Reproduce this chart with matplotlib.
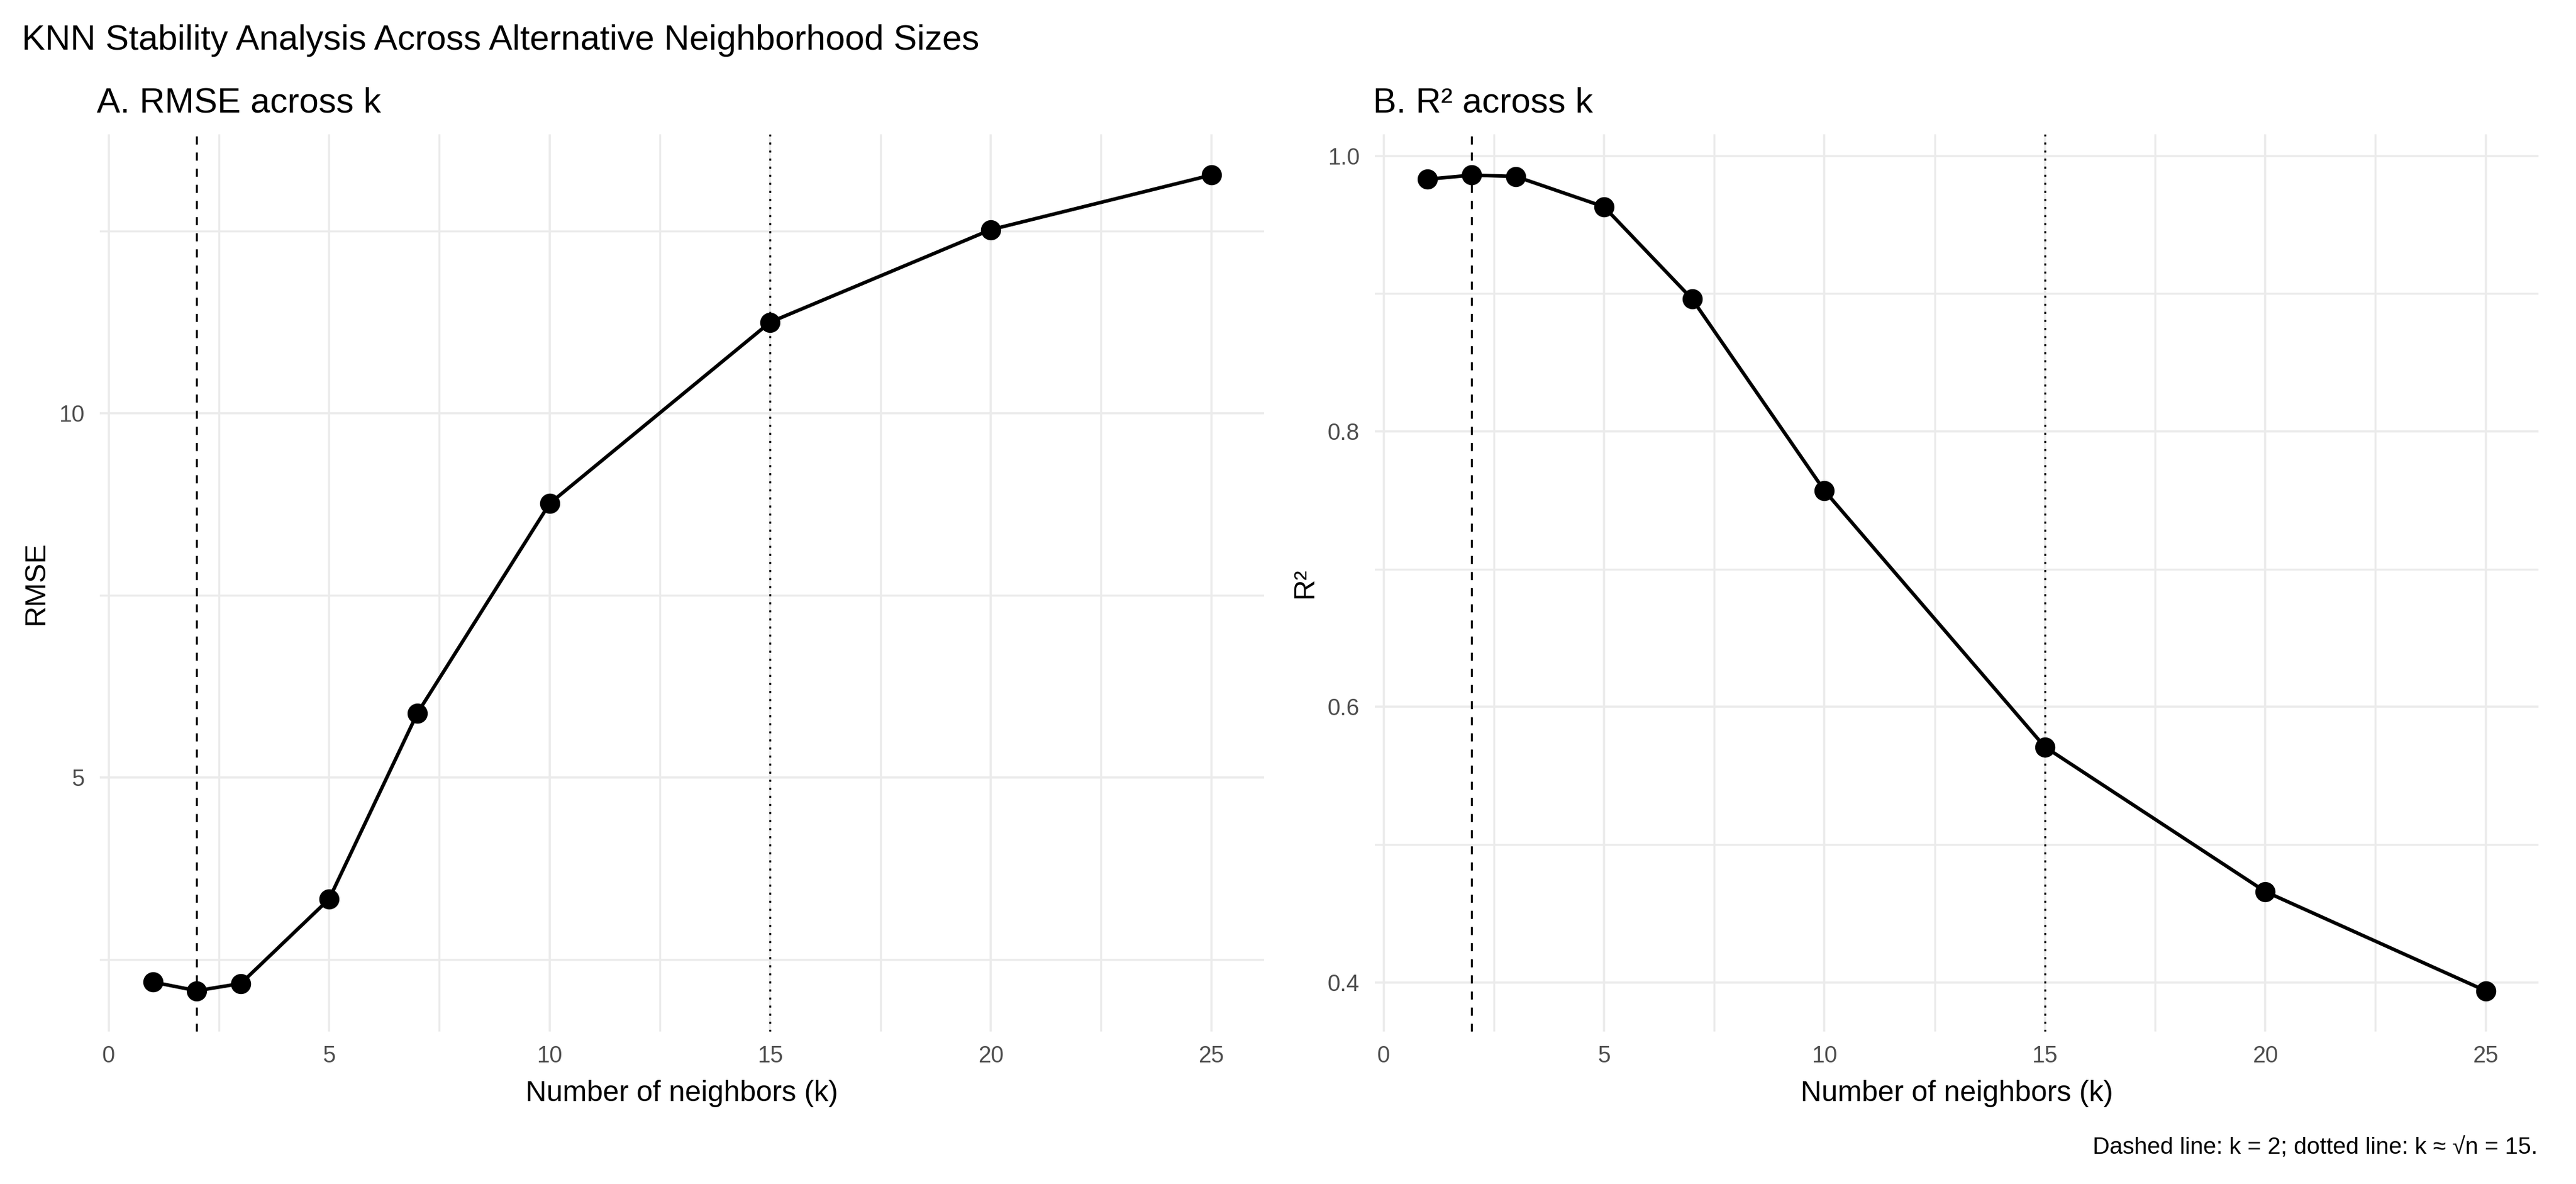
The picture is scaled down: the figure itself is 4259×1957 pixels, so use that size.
import numpy as np
import matplotlib
matplotlib.use("Agg")
import matplotlib.pyplot as plt
from matplotlib.ticker import FixedLocator, FormatStrFormatter

plt.rcParams['font.family'] = ['Liberation Sans', 'DejaVu Sans']

# values
k_values = [1, 2, 3, 5, 7, 10, 15, 20, 25]
rmse = [2.19, 2.07, 2.17, 3.33, 5.88, 8.76, 11.25, 12.52, 13.27]
r2 = [0.983, 0.986, 0.985, 0.963, 0.896, 0.757, 0.571, 0.466, 0.394]
k_dashed = 2
k_dotted = 15

W, H = 4259, 1957
DPI = 300
fig = plt.figure(figsize=(W / DPI, H / DPI), dpi=DPI)

grid_col = "#EBEBEB"
tick_col = "#4D4D4D"


def px_axes(left, top, right, bottom):
    return fig.add_axes([left / W, 1 - bottom / H, (right - left) / W, (bottom - top) / H])


def style(ax, y, major_y, minor_y, fmt, ylab, ylab_x):
    ax.plot(k_values, y, color="black", lw=1.4, zorder=3)
    ax.plot(k_values, y, "o", color="black", ms=7, zorder=4)
    ax.axvline(k_dashed, color="black", lw=0.8, dashes=(4, 4), zorder=2)
    ax.axvline(k_dotted, color="black", lw=0.8, dashes=(1, 3), zorder=2)

    kmin, kmax = min(k_values), max(k_values)
    ax.set_xlim(kmin - 0.05 * (kmax - kmin), kmax + 0.05 * (kmax - kmin))
    lo, hi = min(y), max(y)
    ax.set_ylim(lo - 0.05 * (hi - lo), hi + 0.05 * (hi - lo))

    ax.xaxis.set_major_locator(FixedLocator([0, 5, 10, 15, 20, 25]))
    ax.xaxis.set_minor_locator(FixedLocator([2.5, 7.5, 12.5, 17.5, 22.5]))
    ax.yaxis.set_major_locator(FixedLocator(major_y))
    ax.yaxis.set_minor_locator(FixedLocator(minor_y))
    ax.yaxis.set_major_formatter(FormatStrFormatter(fmt))

    ax.grid(which="major", color=grid_col, lw=0.85, zorder=0)
    ax.grid(which="minor", color=grid_col, lw=0.8, zorder=0)
    ax.set_axisbelow(True)
    for s in ax.spines.values():
        s.set_visible(False)
    ax.tick_params(which="both", length=0)
    ax.tick_params(axis="x", labelsize=9.2, labelcolor=tick_col, pad=5.5)
    ax.tick_params(axis="y", labelsize=9.2, labelcolor=tick_col, pad=6)

    ax.set_xlabel("Number of neighbors (k)", fontsize=11.5)
    ax.xaxis.set_label_coords(0.5, -0.069)
    ax.xaxis.label.set_va("center")
    ax.set_ylabel(ylab, fontsize=11.5)
    ax.yaxis.set_label_coords(ylab_x, 0.5)
    ax.yaxis.label.set_va("center")


ax1 = px_axes(165, 222, 2090, 1705)
style(ax1, rmse, [5, 10], [2.5, 7.5, 12.5], "%g", "RMSE", -0.0545)

ax2 = px_axes(2273, 222, 4197, 1705)
style(ax2, r2, [0.4, 0.6, 0.8, 1.0], [0.5, 0.7, 0.9], "%.1f", "R²", -0.060)

fig.text(36 / W, 1 - 82 / H, "KNN Stability Analysis Across Alternative Neighborhood Sizes",
         fontsize=13.9, va="baseline", ha="left")
fig.text(160 / W, 1 - 185 / H, "A. RMSE across k", fontsize=13.9, va="baseline", ha="left")
fig.text(2270 / W, 1 - 185 / H, "B. R² across k", fontsize=13.9, va="baseline", ha="left")
fig.text(4195 / W, 1 - 1897 / H, "Dashed line: k = 2; dotted line: k ≈ √n = 15.",
         fontsize=9.3, va="center", ha="right")

fig.savefig("out.png", dpi=DPI, facecolor="white")
